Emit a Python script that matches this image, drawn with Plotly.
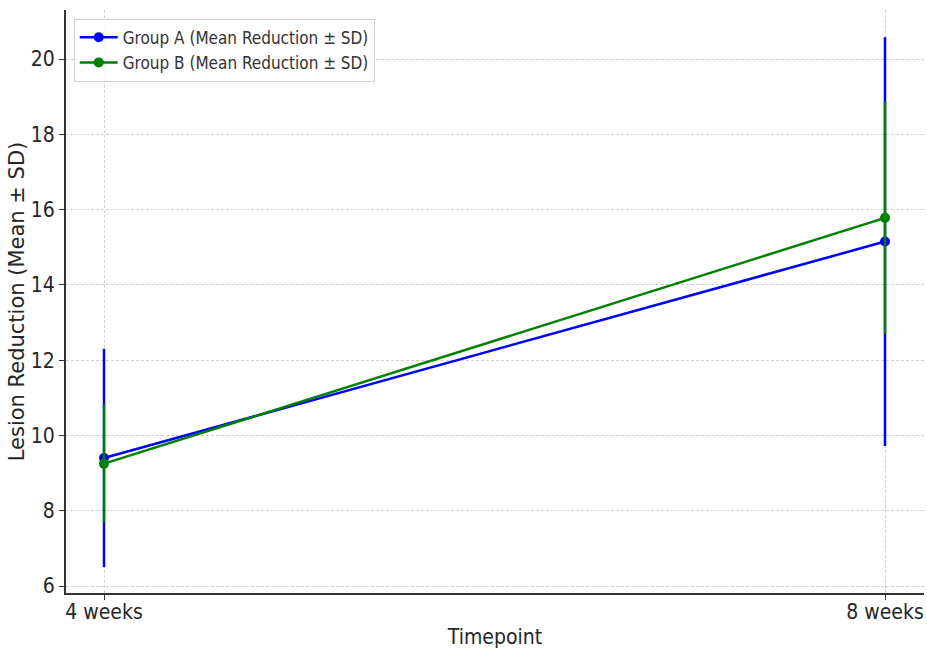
import plotly.graph_objects as go

timepoints = ["4 weeks", "8 weeks"]
group_a_mean = [9.4, 15.15]
group_a_sd = [2.9, 5.43]
group_b_mean = [9.25, 15.78]
group_b_sd = [1.56, 3.08]
y_ticks = [6, 8, 10, 12, 14, 16, 18, 20]

FONT = "DejaVu Sans Condensed, DejaVu Sans, sans-serif"
TXT = "#262626"

fig = go.Figure()
fig.add_trace(go.Scatter(
    x=timepoints, y=group_a_mean, mode="lines+markers",
    name="Group A (Mean Reduction ± SD)",
    line=dict(color="#0000ff", width=2.5),
    marker=dict(color="#0000ff", size=10),
    error_y=dict(type="data", array=group_a_sd, visible=True, color="#0000ff", thickness=2.5, width=0),
))
fig.add_trace(go.Scatter(
    x=timepoints, y=group_b_mean, mode="lines+markers",
    name="Group B (Mean Reduction ± SD)",
    line=dict(color="#008000", width=2.5),
    marker=dict(color="#008000", size=10),
    error_y=dict(type="data", array=group_b_sd, visible=True, color="#008000", thickness=2.5, width=0),
))

fig.update_layout(
    width=927, height=649,
    margin=dict(l=66, r=3, t=10, b=56, autoexpand=False),
    paper_bgcolor="white", plot_bgcolor="white",
    font=dict(family=FONT, color=TXT, size=20),
    showlegend=True,
    legend=dict(
        x=0.009, y=0.985, xanchor="left", yanchor="top",
        bgcolor="rgba(255,255,255,0.8)", bordercolor="#d0d0d0", borderwidth=1,
        font=dict(family=FONT, size=17, color="#333333"),
        tracegroupgap=0, itemwidth=38,
    ),
)
fig.update_xaxes(
    type="category", range=[-0.04866, 1.04994], automargin=False,
    showline=True, linecolor="#333333", linewidth=2, mirror=False,
    ticks="outside", ticklen=5, tickcolor="#333333", tickwidth=1,
    ticklabelstandoff=-6,
    showgrid=True, gridcolor="#d0d0d0", griddash="3px,2px", gridwidth=1,
    zeroline=False,
    title=dict(text="Timepoint", font=dict(family=FONT, size=21, color=TXT), standoff=6),
    tickfont=dict(family=FONT, size=21, color=TXT),
)
fig.update_yaxes(
    range=[5.814, 21.302], tickvals=y_ticks, automargin=False,
    showline=True, linecolor="#333333", linewidth=2, mirror=False,
    ticks="outside", ticklen=5, tickcolor="#333333", tickwidth=1,
    showgrid=True, gridcolor="#d0d0d0", griddash="3px,2px", gridwidth=1,
    zeroline=False,
    title=dict(text="Lesion Reduction (Mean ± SD)", font=dict(family="DejaVu Sans, sans-serif", size=21, color=TXT), standoff=0),
    tickfont=dict(family=FONT, size=21, color=TXT),
)

fig.write_html("out.html", config={"displayModeBar": False},
               post_script="document.body.style.margin='0';document.body.style.overflow='hidden';")
